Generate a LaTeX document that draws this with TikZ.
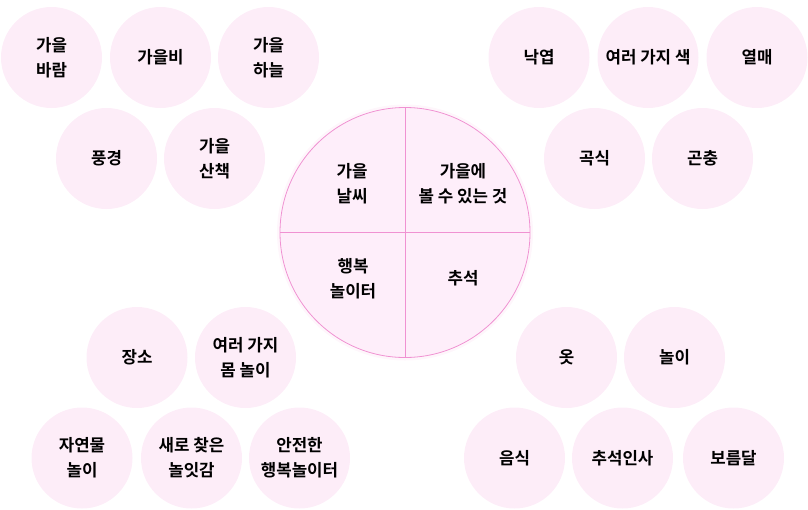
\documentclass[tikz,border=0pt]{standalone}
\usepackage{fontspec}
\usepackage{tikz, xcolor}
\setmainfont{Noto Sans CJK KR}[BoldFont={Noto Sans CJK KR Bold}]
\definecolor{bubblepink}{HTML}{FDEDF8}
\definecolor{corepink}{HTML}{FEEEFA}
\definecolor{linepink}{HTML}{F092D2}
\tikzset{
  bubble/.style={circle, fill=bubblepink, minimum size=101pt, inner sep=0pt, align=center, font=\fontsize{16.8}{25}\selectfont\bfseries},
  part/.style={align=center, font=\fontsize{16.8}{25}\selectfont\bfseries}
}

\begin{document}
\begin{tikzpicture}[x=1pt, y=-1pt]
\useasboundingbox (0,0) rectangle (808,509);
%centre circle
\fill[linepink, opacity=0.08] (405,232.5) circle (128);
\draw[linepink, fill=corepink, line width=0.8pt] (405,232.5) circle (125);
\draw[linepink, line width=0.8pt] (405,107.5) -- (405,357.5);
\draw[linepink, line width=0.8pt] (280,232.5) -- (530,232.5);
\node[part] (weather) at (352,184) {가을\\날씨};
\node[part] (seen) at (463,184) {가을에\\볼 수 있는 것};
\node[part] (play) at (353,279) {행복\\놀이터};
\node[part] (chuseok) at (463,278) {추석};

%bubbles round the circle
  \foreach \n/\x/\y/\t in {wind/51.5/57.5/{가을\\바람}, rain/160.5/57.5/{가을비}, sky/268.5/57.5/{가을\\하늘},
    view/106.5/158.5/{풍경}, walk/214.5/158.5/{가을\\산책},
    leaf/539/57.5/{낙엽}, colour/648/57.5/{여러 가지 색}, fruit/757/57.5/{열매},
    grain/594.5/158.5/{곡식}, bug/702.5/158.5/{곤충},
    place/137/357.5/{장소}, body/245.5/357.5/{여러 가지\\몸 놀이},
    nature/82/458/{자연물\\놀이}, toy/191.5/458/{새로 찾은\\놀잇감}, safe/299.5/458/{안전한\\행복놀이터},
    clothes/566.5/357.5/{옷}, game/674.5/357.5/{놀이},
    food/514.5/458/{음식}, greet/622.5/458/{추석인사}, moon/733.5/458/{보름달}}
  {
    \node[bubble] (\n) at (\x,\y) {\t};
  }
\end{tikzpicture}
\end{document}
